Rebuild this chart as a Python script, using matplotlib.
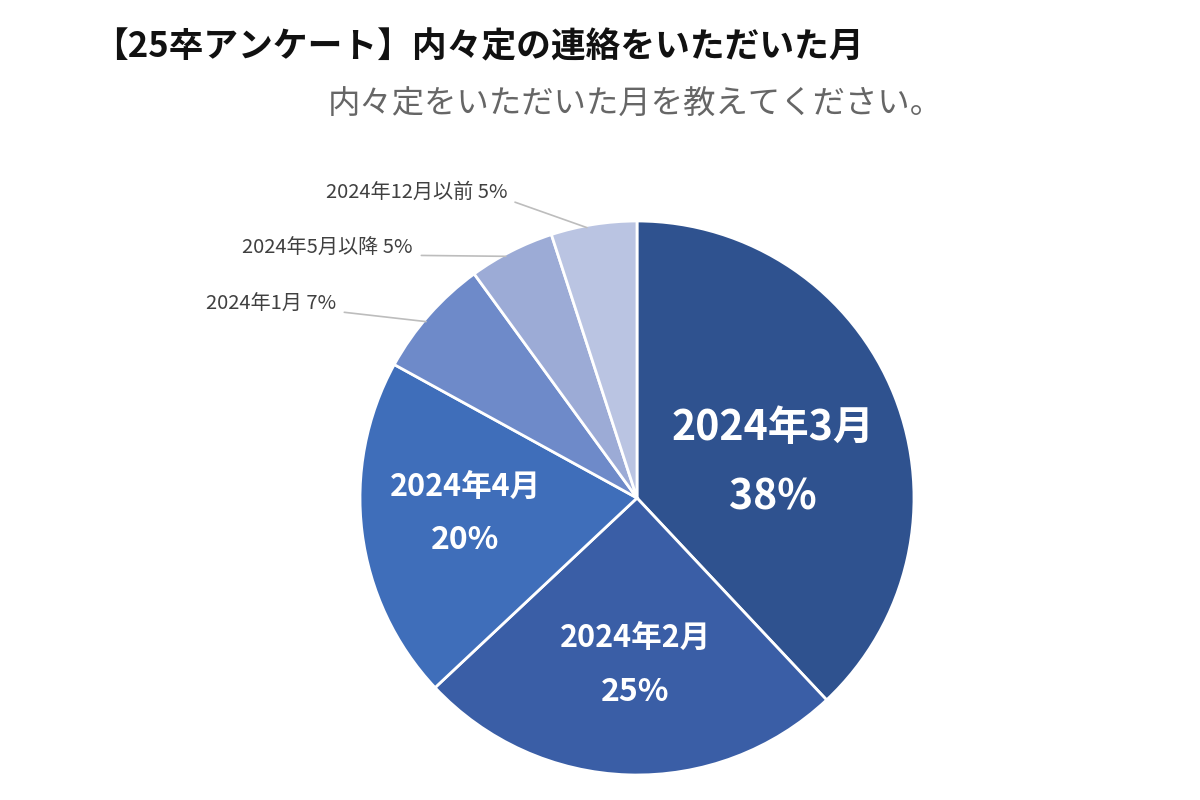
import numpy as np
import matplotlib
matplotlib.use("Agg")
import matplotlib.pyplot as plt

plt.rcParams['font.family'] = ['Noto Sans CJK JP', 'DejaVu Sans']

# Data
labels = ["2024年3月", "2024年2月", "2024年4月", "2024年1月", "2024年5月以降", "2024年12月以前"]
values = [38, 25, 20, 7, 5, 5]
colors = ["#2f528f", "#3a5ea6", "#3f6eba", "#6e8ac9", "#9cabd6", "#bac4e2"]

title = "【25卒アンケート】内々定の連絡をいただいた月"
subtitle = "内々定をいただいた月を教えてください。"

W, H = 1200, 800
fig = plt.figure(figsize=(12, 8), dpi=100)
fig.patch.set_facecolor("white")

cx, cy, half = 637, 498, 300
ax = fig.add_axes([(cx - half) / W, (H - cy - half) / H, 2 * half / W, 2 * half / H])

R = 277
wedges, _ = ax.pie(values, colors=colors, startangle=90, counterclock=False,
                   radius=R, center=(0, 0),
                   wedgeprops=dict(edgecolor="white", linewidth=2))
ax.set_xlim(-half, half)
ax.set_ylim(-half, half)
ax.set_aspect("equal")
ax.axis("off")

# inside labels (offsets in px from centre: x right, y up)
inside = {
    0: ((136, 70), (136, 1), 29.5, 29.5),
    1: ((-2, -140), (-2, -194), 22, 23),
    2: ((-172, 11), (-172, -42), 22, 23),
}
for i, ((tx, ty), (px, py), fs, fp) in inside.items():
    ax.text(tx, ty, labels[i], ha="center", va="center", color="white",
            fontsize=fs, fontweight="bold")
    ax.text(px, py, f"{values[i]}%", ha="center", va="center", color="white",
            fontsize=fp, fontweight="bold")

# outside labels
outside = {
    3: (336 - cx, cy - 304),
    4: (413 - cx, cy - 248),
    5: (507 - cx, cy - 192),
}
for i, (tx, ty) in outside.items():
    w = wedges[i]
    ang = np.deg2rad((w.theta1 + w.theta2) / 2 + 1.5)
    ex, ey = (R - 2) * np.cos(ang), (R - 2) * np.sin(ang)
    ax.annotate(f"{labels[i]} {values[i]}%", xy=(ex, ey), xytext=(tx, ty),
                ha="right", va="center", fontsize=14.5, color="#404040",
                arrowprops=dict(arrowstyle="-", color="#bdbdbd", lw=1.2,
                                shrinkA=4, shrinkB=0,
                                relpos=(1.0, 0.15)))

fig.text(93 / W, 1 - 47 / H, title, ha="left", va="center", fontsize=25,
         fontweight="bold", color="#111111")
fig.text(328 / W, 1 - 105 / H, subtitle, ha="left", va="center", fontsize=23.3,
         color="#666666")

fig.savefig("out.png", dpi=100, facecolor="white")
